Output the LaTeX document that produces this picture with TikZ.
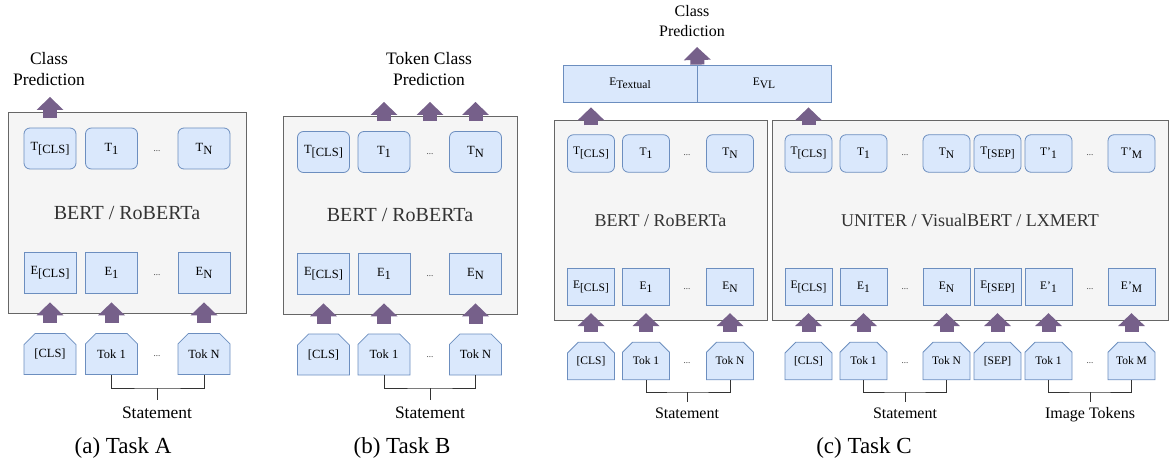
\documentclass[tikz,border=0pt]{standalone}
\usepackage{fontspec}
\setmainfont{Liberation Serif}
\usetikzlibrary{arrows.meta,shapes.misc}

\definecolor{boxfill}{HTML}{DAE8FC}
\definecolor{boxline}{HTML}{6C8EBF}
\definecolor{modfill}{HTML}{F5F5F5}
\definecolor{modline}{HTML}{666666}
\definecolor{modtext}{HTML}{333333}
\definecolor{lila}{HTML}{76608A}

\newcommand{\tief}[1]{\raisebox{-3pt}{#1}}

\begin{document}
\begin{tikzpicture}[
        x=1pt, y=-1pt,
        tbox/.style={draw=boxline, fill=boxfill, line width=0.8pt, rounded corners=6pt,
            minimum width=52pt, minimum height=41pt, inner sep=0pt,
            font=\fontsize{12.5}{15}\selectfont},
        ebox/.style={tbox, sharp corners},
        tok/.style={tbox, sharp corners, chamfered rectangle,
            chamfered rectangle corners={north west,north east},
            chamfered rectangle xsep=6pt, chamfered rectangle ysep=6pt},
        small/.style={minimum width=47pt, minimum height=37.5pt, font=\fontsize{11.5}{14}\selectfont},
        modbox/.style={draw=modline, fill=modfill, line width=1pt, inner sep=0pt,
            text=modtext, font=\fontsize{20}{24}\selectfont},
        dots/.style={text=modtext, inner sep=0pt, font=\fontsize{9}{10}\selectfont},
        fat/.style={line width=14pt, draw=lila,
            -{Triangle[length=13pt,width=27pt,line width=0pt]},
            shorten <=10pt, shorten >=9pt},
        klammer/.style={draw=black!80, line width=1pt},
        pred/.style={align=center, inner sep=0pt, anchor=south, font=\fontsize{17.5}{21}\selectfont},
        lab/.style={inner sep=0pt, anchor=base, font=\fontsize{17.5}{21}\selectfont},
        unterschrift/.style={inner sep=0pt, anchor=base, font=\fontsize{23}{27}\selectfont}
    ]
    \useasboundingbox (0,0) rectangle (1169,462);

    % Aufgabe A
    \node[modbox, minimum width=238pt, minimum height=200pt] (boxA) at (127,213) {BERT / RoBERTa};
    \node[tbox] (tA0) at (50,148.5) {T\tief{[CLS]}};
    \node[tbox] (tA1) at (111.5,148.5) {T\tief{1}};
    \node[dots] (dtA) at (157,151) {...};
    \node[tbox] (tAn) at (204,148.5) {T\tief{N}};
    \node[ebox] (eA0) at (50,272.5) {E\tief{[CLS]}};
    \node[ebox] (eA1) at (111.5,272.5) {E\tief{1}};
    \node[dots] (deA) at (157,275) {...};
    \node[ebox] (eAn) at (204,272.5) {E\tief{N}};
    \node[tok] (kA0) at (50,354) {[CLS]};
    \node[tok] (kA1) at (111.5,354) {Tok 1};
    \node[dots] (dkA) at (157,356) {...};
    \node[tok] (kAn) at (204,354) {Tok N};

    \node[pred] (pA) at (49,86) {Class\\Prediction};
    \coordinate (oA) at (50,97);
    \draw[fat, shorten >=0pt] (tA0.north) -- (oA);
    \draw[fat] (kA0.north) -- (eA0.south);
    \draw[fat] (kA1.north) -- (eA1.south);
    \draw[fat] (kAn.north) -- (eAn.south);

    \node[lab] (sA) at (157,418) {Statement};
    \coordinate (bA) at (157,388);
    \draw[klammer] (kA1.south) |- (bA) -| (kAn.south);
    \draw[klammer] (bA) -- ([yshift=6pt]sA.north);
    \node[unterschrift] (capA) at (123,453) {(a) Task A};

    % Aufgabe B
    \node[modbox, minimum width=234pt, minimum height=197pt] (boxB) at (400,215.5) {BERT / RoBERTa};
    \node[tbox] (tB0) at (323.5,152) {T\tief{[CLS]}};
    \node[tbox] (tB1) at (384,152) {T\tief{1}};
    \node[dots] (dtB) at (430,154) {...};
    \node[tbox] (tBn) at (475.5,152) {T\tief{N}};
    \node[ebox] (eB0) at (323.5,273.5) {E\tief{[CLS]}};
    \node[ebox] (eB1) at (384,273.5) {E\tief{1}};
    \node[dots] (deB) at (430,276) {...};
    \node[ebox] (eBn) at (475.5,273.5) {E\tief{N}};
    \node[tok] (kB0) at (323.5,354.5) {[CLS]};
    \node[tok] (kB1) at (384,354.5) {Tok 1};
    \node[dots] (dkB) at (430,357) {...};
    \node[tok] (kBn) at (475.5,354.5) {Tok N};

    \node[pred] (pB) at (429,86) {Token Class\\Prediction};
    \coordinate (oB) at (430,102);
    \draw[fat, shorten >=0pt] (tB1.north) -- (tB1.north |- oB);
    \draw[fat, shorten >=0pt] (dtB |- tB1.north) -- (oB);
    \draw[fat, shorten >=0pt] (tBn.north) -- (tBn.north |- oB);
    \draw[fat] (kB0.north) -- (eB0.south);
    \draw[fat] (kB1.north) -- (eB1.south);
    \draw[fat] (kBn.north) -- (eBn.south);

    \node[lab] (sB) at (430,418) {Statement};
    \coordinate (bB) at (430,388);
    \draw[klammer] (kB1.south) |- (bB) -| (kBn.south);
    \draw[klammer] (bB) -- ([yshift=6pt]sB.north);
    \node[unterschrift] (capB) at (402,453) {(b) Task B};

    % Aufgabe C
    \node[ebox, small, minimum width=134pt, minimum height=37pt] (eTxt) at (630,83.5) {E\tief{Textual}};
    \node[ebox, small, minimum width=134pt, minimum height=37pt] (eVL) at (764,83.5) {E\tief{VL}};
    \node[pred, font=\fontsize{16}{20}\selectfont] (pC) at (692,37) {Class\\Prediction};
    \coordinate (oC) at (697,47);
    \draw[fat, shorten <=0pt, shorten >=0pt] (eTxt.north east) -- (oC);

    \node[modbox, minimum width=213pt, minimum height=199pt, font=\fontsize{18}{22}\selectfont] (boxC) at (660.5,220.5) {BERT / RoBERTa};
    \node[tbox, small] (tC0) at (591,153.5) {T\tief{[CLS]}};
    \node[tbox, small] (tC1) at (646,153.5) {T\tief{1}};
    \node[dots] (dtC) at (687,155) {...};
    \node[tbox, small] (tCn) at (730,153.5) {T\tief{N}};
    \node[ebox, small] (eC0) at (591,287) {E\tief{[CLS]}};
    \node[ebox, small] (eC1) at (646,287) {E\tief{1}};
    \node[dots] (deC) at (687,289) {...};
    \node[ebox, small] (eCn) at (730,287) {E\tief{N}};
    \node[tok, small] (kC0) at (591,361) {[CLS]};
    \node[tok, small] (kC1) at (646,361) {Tok 1};
    \node[dots] (dkC) at (687,363) {...};
    \node[tok, small] (kCn) at (730,361) {Tok N};

    \node[modbox, minimum width=396pt, minimum height=199pt, font=\fontsize{18}{22}\selectfont] (boxD) at (970,220.5) {UNITER / VisualBERT / LXMERT};
    \node[tbox, small] (tD0) at (808.5,153.5) {T\tief{[CLS]}};
    \node[tbox, small] (tD1) at (863.5,153.5) {T\tief{1}};
    \node[dots] (dtD) at (905,155) {...};
    \node[tbox, small] (tDn) at (946.5,153.5) {T\tief{N}};
    \node[tbox, small] (tDs) at (997.5,153.5) {T\tief{[SEP]}};
    \node[tbox, small] (tDv) at (1048.5,153.5) {T'\tief{1}};
    \node[dots] (dtDv) at (1090,155) {...};
    \node[tbox, small] (tDm) at (1131.5,153.5) {T'\tief{M}};
    \node[ebox, small] (eD0) at (808.5,287) {E\tief{[CLS]}};
    \node[ebox, small] (eD1) at (863.5,287) {E\tief{1}};
    \node[dots] (deD) at (905,289) {...};
    \node[ebox, small] (eDn) at (946.5,287) {E\tief{N}};
    \node[ebox, small] (eDs) at (997.5,287) {E\tief{[SEP]}};
    \node[ebox, small] (eDv) at (1048.5,287) {E'\tief{1}};
    \node[dots] (deDv) at (1090,289) {...};
    \node[ebox, small] (eDm) at (1131.5,287) {E'\tief{M}};
    \node[tok, small] (kD0) at (808.5,361) {[CLS]};
    \node[tok, small] (kD1) at (863.5,361) {Tok 1};
    \node[dots] (dkD) at (905,363) {...};
    \node[tok, small] (kDn) at (946.5,361) {Tok N};
    \node[tok, small] (kDs) at (997.5,361) {[SEP]};
    \node[tok, small] (kDv) at (1048.5,361) {Tok 1};
    \node[dots] (dkDv) at (1090,363) {...};
    \node[tok, small] (kDm) at (1131.5,361) {Tok M};

    % Pfeile C
    \draw[fat, shorten <=9pt, shorten >=5pt] (tC0.north) -- (tC0.north |- eTxt.south);
    \draw[fat, shorten <=9pt, shorten >=5pt] (tD0.north) -- (tD0.north |- eVL.south);
    \foreach \n in {C0,C1,Cn,D0,D1,Dn,Ds,Dv,Dm}
        \draw[fat, shorten >=7pt] (k\n.north) -- (e\n.south);

    % Klammern C
    \node[lab, font=\fontsize{16}{20}\selectfont] (sC) at (687,418) {Statement};
    \coordinate (bC) at (687,392);
    \draw[klammer] (kC1.south) |- (bC) -| (kCn.south);
    \draw[klammer] (bC) -- ([yshift=5pt]sC.north);
    \node[lab, font=\fontsize{16}{20}\selectfont] (sD) at (905,418) {Statement};
    \coordinate (bD) at (905,392);
    \draw[klammer] (kD1.south) |- (bD) -| (kDn.south);
    \draw[klammer] (bD) -- ([yshift=5pt]sD.north);
    \node[lab, font=\fontsize{16}{20}\selectfont] (sI) at (1090,418) {Image Tokens};
    \coordinate (bI) at (1090,392);
    \draw[klammer] (kDv.south) |- (bI) -| (kDm.south);
    \draw[klammer] (bI) -- ([yshift=5pt]sI.north);
    \node[unterschrift] (capC) at (864,453) {(c) Task C};
\end{tikzpicture}
\end{document}
